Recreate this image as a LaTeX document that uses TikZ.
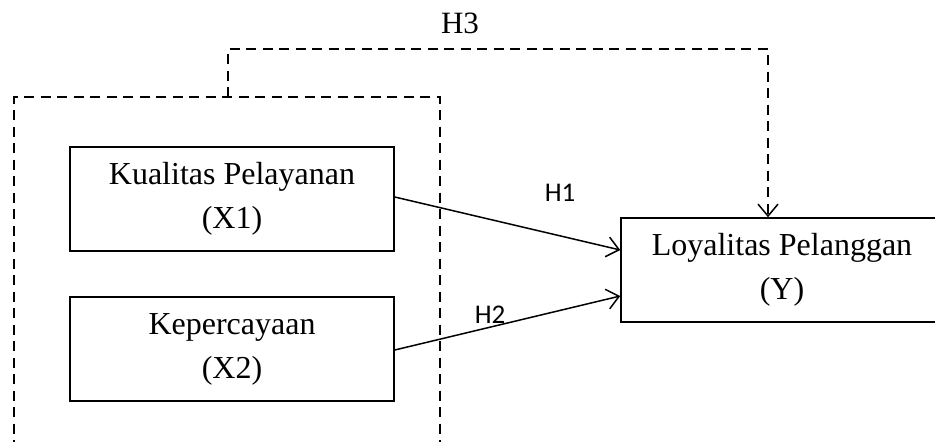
\documentclass[tikz,border=0pt]{standalone}
\usepackage{fontspec}
\setmainfont{Liberation Serif}
\newfontfamily\calibfont{Carlito}
\usetikzlibrary{arrows.meta,calc}
\begin{document}
\begin{tikzpicture}[x=1pt,y=-1pt,
  varbox/.style={draw, line width=1.5pt, inner sep=0pt, align=center,
    minimum height=104pt, font=\fontsize{32}{44}\selectfont},
  hlabel/.style={font=\calibfont\fontsize{27}{30}\selectfont},
  dashline/.style={line width=2.8pt, dash pattern=on 10pt off 6.5pt},
  arr/.style={line width=1.5pt, -{Straight Barb[length=12pt,width=20pt,line width=1.5pt]}}
]
\useasboundingbox (0,0) rectangle (935,442);
\clip (0,0) rectangle (935,442);

% boxes
\node[varbox, minimum width=324pt] (x1) at (232,199) {Kualitas Pelayanan\\(X1)};
\node[varbox, minimum width=324pt] (x2) at (232,349) {Kepercayaan\\(X2)};
\node[varbox, minimum width=322pt] (y) at (782,270) {Loyalitas Pelanggan\\(Y)};

% dashed grouping box (runs off the bottom)
\coordinate (gbl) at (14,450);
\coordinate (gbr) at (440,450);
\coordinate (gtop) at (228,97);
\draw[dashline] (gbl) -- (14,97) -- (440,97) -- (gbr);

% H3 connector
\coordinate (ytop) at ($(y.north)+(-14,0)$);
\draw[dashline, arr, line width=2.8pt] (gtop) -- (228,49) -| (ytop);
\node[font=\fontsize{31}{36}\selectfont] (h3) at (460,23) {H3};

% H1, H2
\draw[arr] ($(x1.east)+(0,-2)$) -- ($(y.west)+(0,-20)$);
\draw[arr] ($(x2.east)+(0,1)$) -- ($(y.west)+(0,26)$);
\node[hlabel] (h1) at (560,193) {H1};
\node[hlabel] (h2) at (490,315) {H2};
\end{tikzpicture}
\end{document}
